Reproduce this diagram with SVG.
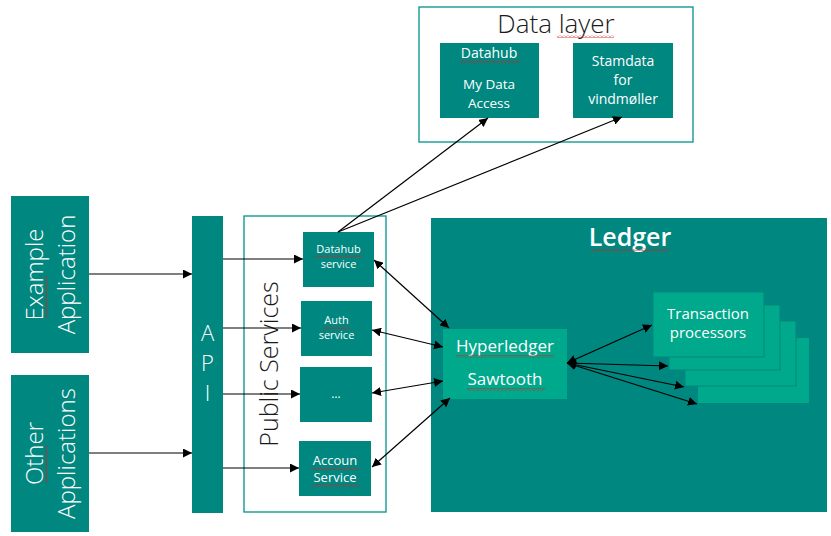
<svg xmlns="http://www.w3.org/2000/svg" width="831" height="536" viewBox="0 0 831 536">
<style>
.box{fill:#00877F;}
.lbox{fill:#00A88C;}
.frame{fill:none;stroke:#00928C;stroke-width:1.3;}
.t{font-family:"Open Sans","Noto Sans","DejaVu Sans",sans-serif;fill:#ffffff;text-anchor:middle;}
.big{font-family:"Open Sans","Noto Sans","DejaVu Sans",sans-serif;font-weight:300;fill:#ffffff;text-anchor:middle;}
.dark{fill:#1a1a1a;}
.c{stroke:#000;stroke-width:1.2;fill:none;}
.sq{fill:url(#sq);}
</style>
<defs>
<marker id="ah" viewBox="0 0 10 10" refX="10" refY="5" markerWidth="9" markerHeight="9" markerUnits="userSpaceOnUse" orient="auto-start-reverse">
<path d="M0,0 L10,5 L0,10 z" fill="#000"/>
</marker>
<pattern id="sq" width="4" height="3" patternUnits="userSpaceOnUse">
<path d="M0,2.5 L2,0.5 L4,2.5" stroke="#d42020" stroke-width="0.9" fill="none"/>
</pattern>
</defs>

<!-- Data layer -->
<g id="data-layer">
<rect class="frame" x="419" y="7" width="274" height="135" fill="#fff"/>
<text class="big dark" x="556" y="33" font-size="26">Data layer</text>
<rect class="sq" x="557" y="35" width="57" height="3"/>
</g>
<g id="datahub">
<rect class="box" x="440" y="43" width="99" height="75"/>
<text class="t" x="489" y="58" font-size="14">Datahub</text>
<rect class="sq" x="460" y="61" width="60" height="3"/>
<text class="t" x="489" y="89" font-size="13.5">My Data</text>
<text class="t" x="489" y="108" font-size="13.5">Access</text>
</g>
<g id="stamdata">
<rect class="box" x="573" y="43" width="100" height="75"/>
<text class="t" x="623" y="66" font-size="14">Stamdata</text>
<text class="t" x="623" y="85" font-size="14">for</text>
<text class="t" x="623" y="104" font-size="14">vindmøller</text>
</g>

<!-- Applications -->
<g id="example-application">
<rect class="box" x="11" y="196" width="78" height="157"/>
<g transform="translate(0,274.5) rotate(-90)">
<text class="big" x="0" y="43" font-size="24">Example</text>
<rect class="sq" x="-43" y="45" width="42" height="3"/>
<text class="big" x="0" y="75" font-size="24">Application</text>
</g>
</g>
<g id="other-applications">
<rect class="box" x="11" y="375" width="78" height="157"/>
<g transform="translate(0,453.5) rotate(-90)">
<text class="big" x="0" y="43" font-size="24">Other</text>
<rect class="sq" x="-30" y="45" width="38" height="3"/>
<text class="big" x="0" y="75" font-size="24">Applications</text>
</g>
</g>

<!-- API -->
<g id="api">
<rect class="box" x="192" y="216" width="31" height="297"/>
<text class="big" x="207.5" y="341" font-size="22">A</text>
<text class="big" x="207.5" y="371" font-size="22">P</text>
<text class="big" x="207.5" y="401" font-size="22">I</text>
</g>

<!-- Public services -->
<g id="public-services">
<rect class="frame" x="244" y="216" width="142" height="296"/>
<text class="big dark" transform="translate(278,364) rotate(-90)" x="0" y="0" font-size="25">Public Services</text>
</g>
<g id="datahub-service">
<rect class="box" x="303" y="232" width="71" height="55"/>
<text class="t" x="338.5" y="253" font-size="11">Datahub</text>
<rect class="sq" x="315" y="255" width="47" height="3"/>
<text class="t" x="338.5" y="268" font-size="11">service</text>
</g>
<g id="auth-service">
<rect class="box" x="301" y="301" width="71" height="55"/>
<text class="t" x="336.5" y="324" font-size="11">Auth</text>
<rect class="sq" x="323" y="326" width="27" height="3"/>
<text class="t" x="336.5" y="339" font-size="11">service</text>
</g>
<g id="more-services">
<rect class="box" x="300" y="367" width="72" height="55"/>
<text class="t" x="336" y="398" font-size="12">…</text>
</g>
<g id="account-service">
<rect class="box" x="299" y="441" width="72" height="55"/>
<text class="t" x="335" y="465" font-size="13">Accoun</text>
<rect class="sq" x="311" y="467" width="48" height="3"/>
<text class="t" x="335" y="482" font-size="13">Service</text>
<rect class="sq" x="312" y="484" width="47" height="3"/>
</g>

<!-- Ledger -->
<g id="ledger">
<rect class="box" x="431" y="218" width="396" height="294"/>
<text class="t" x="630" y="246" font-size="25" font-weight="600">Ledger</text>
<rect class="sq" x="591" y="248" width="78" height="3"/>
</g>
<g id="transaction-processors">
<rect class="lbox" x="698" y="338" width="111" height="65"/>
<rect class="lbox" x="685" y="321" width="111" height="65" stroke="#00897F" stroke-width="1"/>
<rect class="lbox" x="669" y="305" width="111" height="65" stroke="#00897F" stroke-width="1"/>
<rect class="lbox" x="653" y="292" width="111" height="65" stroke="#00897F" stroke-width="1"/>
<text class="t" x="708" y="319" font-size="15">Transaction</text>
<text class="t" x="708" y="338" font-size="15">processors</text>
</g>
<g id="hyperledger-sawtooth">
<rect class="lbox" x="443" y="329" width="124" height="70"/>
<text class="t" x="505" y="352" font-size="17">Hyperledger</text>
<rect class="sq" x="456" y="355" width="98" height="3"/>
<text class="t" x="505" y="385" font-size="17">Sawtooth</text>
<rect class="sq" x="467" y="388" width="78" height="3"/>
</g>

<!-- Connectors -->
<g id="connectors">
<line class="c" x1="89" y1="274" x2="192" y2="274" marker-end="url(#ah)"/>
<line class="c" x1="89" y1="453" x2="192" y2="453" marker-end="url(#ah)"/>
<line class="c" x1="223" y1="259" x2="303" y2="259" marker-end="url(#ah)"/>
<line class="c" x1="223" y1="328" x2="301" y2="328" marker-end="url(#ah)"/>
<line class="c" x1="223" y1="394" x2="300" y2="394" marker-end="url(#ah)"/>
<line class="c" x1="223" y1="468" x2="299" y2="468" marker-end="url(#ah)"/>
<line class="c" x1="338" y1="232" x2="488" y2="118" marker-end="url(#ah)"/>
<line class="c" x1="338" y1="232" x2="622" y2="117" marker-end="url(#ah)"/>
<line class="c" x1="374" y1="260" x2="449" y2="328" marker-start="url(#ah)" marker-end="url(#ah)"/>
<line class="c" x1="372" y1="330" x2="443" y2="347" marker-start="url(#ah)" marker-end="url(#ah)"/>
<line class="c" x1="372" y1="393" x2="443" y2="381" marker-start="url(#ah)" marker-end="url(#ah)"/>
<line class="c" x1="372" y1="467" x2="450" y2="398" marker-start="url(#ah)" marker-end="url(#ah)"/>
<line class="c" x1="567" y1="363" x2="652" y2="325" marker-start="url(#ah)" marker-end="url(#ah)"/>
<line class="c" x1="567" y1="363" x2="668" y2="366" marker-start="url(#ah)" marker-end="url(#ah)"/>
<line class="c" x1="567" y1="363" x2="684" y2="387" marker-start="url(#ah)" marker-end="url(#ah)"/>
<line class="c" x1="567" y1="363" x2="697" y2="404" marker-start="url(#ah)" marker-end="url(#ah)"/>
</g>
</svg>
